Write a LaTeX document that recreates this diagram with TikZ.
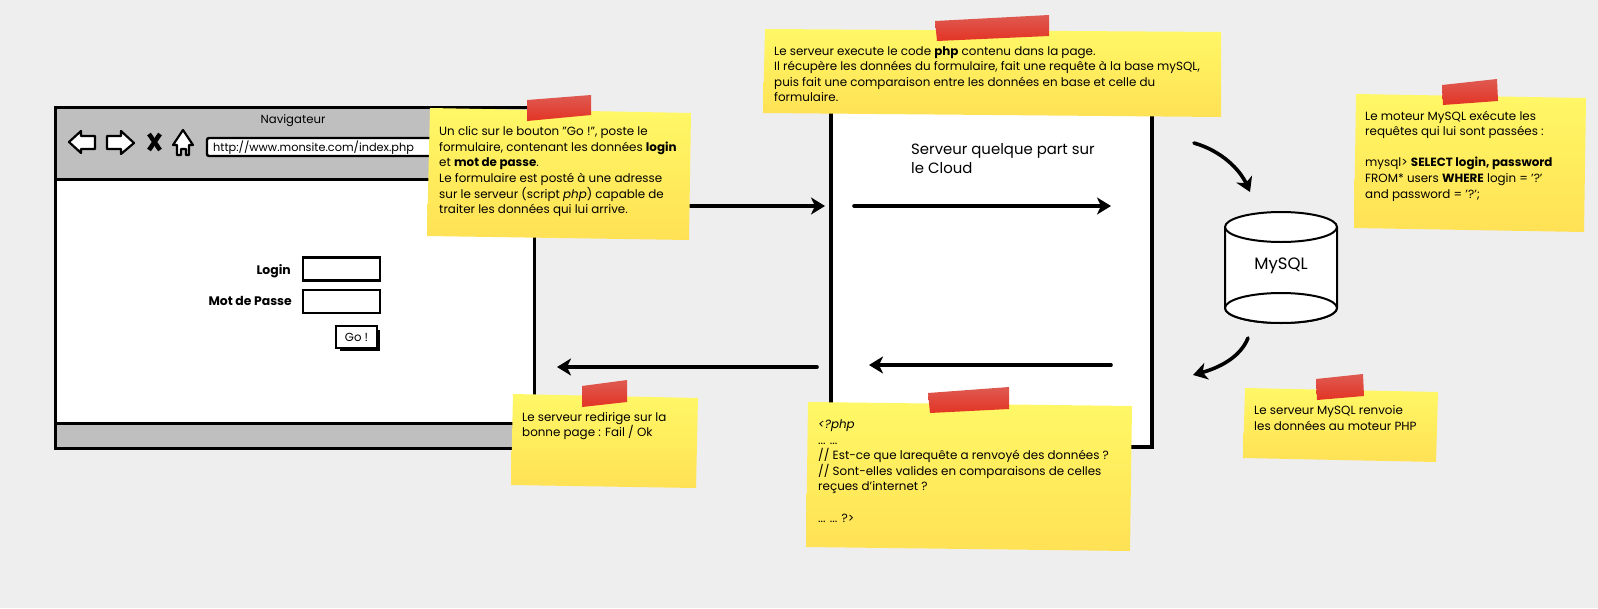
\documentclass[tikz,border=0pt]{standalone}
\usepackage{fontspec}
\setmainfont{Poppins}
\usetikzlibrary{arrows.meta}
\definecolor{pagegrey}{HTML}{EEEEEE}
\definecolor{chromegrey}{HTML}{BFBFBF}
\definecolor{notelight}{HTML}{FFF866}
\definecolor{notemid}{HTML}{FFE75A}
\definecolor{notedark}{HTML}{FFE155}
\definecolor{tapelight}{HTML}{DE5A52}
\definecolor{tapedark}{HTML}{E33424}
\tikzset{
  flow/.style={line width=3.6pt,line cap=round,-{Stealth[length=14pt,width=17pt,inset=4pt]}},
  wall/.style={line width=3pt},
  field/.style={draw,line width=2.4pt,fill=white},
  icon/.style={draw,line width=2.2pt,fill=white,line join=round},
  notepaper/.style={top color=notelight,middle color=notemid,bottom color=notedark},
  tape/.style={top color=tapelight,bottom color=tapedark},
  notetext/.style={anchor=north west,inner sep=0pt,align=left,font=\fontsize{11.9}{15.6}\selectfont},
  uitext/.style={inner sep=0pt,font=\fontsize{11.7}{15.6}\selectfont},
  formtext/.style={inner sep=0pt,font=\fontsize{12.4}{15.6}\selectfont},
  bigtext/.style={inner sep=0pt,align=left,font=\fontsize{14.9}{19}\selectfont}
}
\begin{document}
\begin{tikzpicture}[x=1pt,y=-1pt]
    \useasboundingbox (0,0) rectangle (1598,608);
    \fill[pagegrey] (0,0) rectangle (1598,608);

    % browser
    \draw[wall,fill=white] (55,107) rectangle (534,448);
    \draw[wall,fill=chromegrey] (55,107) rectangle (534,179);
    \draw[wall,fill=chromegrey] (55,423) rectangle (534,448);
    \node[uitext] (navtitle) at (293,120.5) {Navigateur};

    % browser buttons
    \draw[icon] (69,142) -- (81,131) -- (81,136) -- (95,136) -- (95,149) -- (81,149) -- (81,153) -- cycle;
    \draw[icon] (134,143) -- (121,131) -- (121,136) -- (107,136) -- (107,149) -- (121,149) -- (121,154) -- cycle;
    \draw[line width=4.5pt] (149,134) -- (160,150);
    \draw[line width=4.5pt] (160,134) -- (149,150);
    \draw[icon] (183,130) -- (173,145) -- (177,145) -- (177,155) -- (181,155) -- (181,149) -- (186,149) -- (186,155) -- (189,155) -- (189,145) -- (193,145) -- cycle;
    \draw[field,rounded corners=2pt] (207,138) rectangle (470,156);
    \node[uitext,anchor=west,font=\fontsize{11.3}{15.6}\selectfont] (urltext) at (213,148) {http://www.monsite.com/index.php};

    % form
    \node[formtext,anchor=east] (loginlabel) at (291,271) {\textbf{Login}};
    \node[formtext,anchor=east] (passlabel) at (292,301) {\textbf{Mot de Passe}};
    \node[field,minimum width=77pt,minimum height=23pt,inner sep=0pt] (loginfield) at (341.5,269) {};
    \node[field,minimum width=77pt,minimum height=23pt,inner sep=0pt] (passfield) at (341.5,301.5) {};
    \fill (340,330) rectangle (380,351);
    \node[field,line width=1.6pt,minimum width=41pt,minimum height=22pt,inner sep=0pt,font=\fontsize{11.7}{15.6}\selectfont] (gobutton) at (356.5,337) {Go !};

    % server
    \draw[line width=3.5pt,fill=white] (831,100) -- (831,447) -- (1152,447) -- (1152,100);
    \node[bigtext,anchor=north west] (servertext) at (911,143) {Serveur quelque part sur\\le Cloud};

    % mysql
    \draw[line width=2pt,fill=white] (1225,227) -- (1225,308) arc[start angle=180,end angle=360,x radius=56pt,y radius=15pt] -- (1337,227);
    \draw[line width=2pt,fill=white] (1281,227) ellipse [x radius=56pt,y radius=15pt];
    \draw[line width=2pt,fill=white] (1281,308) ellipse [x radius=56pt,y radius=15pt];
    \node[bigtext,font=\fontsize{16.5}{19}\selectfont] (mysqltext) at (1281,266) {MySQL};

    % flows
    \coordinate (postA) at (690,206);
    \coordinate (postB) at (825,206);
    \coordinate (execA) at (854,206);
    \coordinate (execB) at (1111,206);
    \coordinate (askA) at (1194,143);
    \coordinate (askB) at (1250,192);
    \coordinate (backA) at (1248,338);
    \coordinate (backB) at (1193,375);
    \coordinate (replyA) at (1111,365);
    \coordinate (replyB) at (869,365);
    \coordinate (redirA) at (817,367);
    \coordinate (redirB) at (557,367);
    \draw[flow] (postA) -- (postB);
    \draw[flow] (execA) -- (execB);
    \draw[flow] (askA) .. controls (1222,151) and (1240,170) .. (askB);
    \draw[flow] (backA) .. controls (1240,358) and (1218,368) .. (backB);
    \draw[flow] (replyA) -- (replyB);
    \draw[flow] (redirA) -- (redirB);

    % notes
    \shade[notepaper] (430,108) -- (691,113) -- (689,240) -- (427,236) -- cycle;
    \shade[tape] (527,100) -- (591,95) -- (591,115) -- (527,121) -- cycle;
    \node[notetext] (posttext) at (439,126.5) {Un clic sur le bouton "Go !", poste le\\formulaire, contenant les données \textbf{login}\\et \textbf{mot de passe}.\\Le formulaire est posté à une adresse\\sur le serveur (script \textit{php}) capable de\\traiter les données qui lui arrive.};

    \shade[notepaper] (765,29) -- (1221,32) -- (1221,117) -- (763,113) -- cycle;
    \shade[tape] (935,21) -- (1049,15) -- (1049,36) -- (937,41) -- cycle;
    \node[notetext] (exectext) at (774,46) {Le serveur execute le code \textbf{php} contenu dans la page.\\Il récupère les données du formulaire, fait une requête à la base mySQL,\\puis fait une comparaison entre les données en base et celle du\\formulaire.};

    \shade[notepaper] (1356,94) -- (1586,98) -- (1584,232) -- (1354,228) -- cycle;
    \shade[tape] (1442,85) -- (1497,79) -- (1498,101) -- (1443,105) -- cycle;
    \node[notetext] (enginetext) at (1365,110.5) {Le moteur MySQL exécute les\\requêtes qui lui sont passées :\\~\\mysql> \textbf{SELECT login, password}\\FROM* users \textbf{WHERE} login = '?'\\and password = '?';};

    \shade[notepaper] (1245,388) -- (1438,392) -- (1436,462) -- (1243,458) -- cycle;
    \shade[tape] (1316,379) -- (1363,374) -- (1364,396) -- (1317,400) -- cycle;
    \node[notetext] (backtext) at (1254,405.5) {Le serveur MySQL renvoie\\les données au moteur PHP};

    \shade[notepaper] (513,394) -- (698,398) -- (696,488) -- (511,485) -- cycle;
    \shade[tape] (582,386) -- (627,380) -- (627,402) -- (582,407) -- cycle;
    \node[notetext] (redirtext) at (522,412) {Le serveur redirige sur la\\bonne page : Fail / Ok};

    \shade[notepaper] (808,402) -- (1132,406) -- (1130,551) -- (806,547) -- cycle;
    \shade[tape] (928,393) -- (1009,387) -- (1009,409) -- (930,413) -- cycle;
    \node[notetext] (codetext) at (818,419.5) {\textit{<?php}\\... ...\\// Est-ce que larequête a renvoyé des données ?\\// Sont-elles valides en comparaisons de celles\\reçues d'internet ?\\~\\... ... ?>};
\end{tikzpicture}
\end{document}
